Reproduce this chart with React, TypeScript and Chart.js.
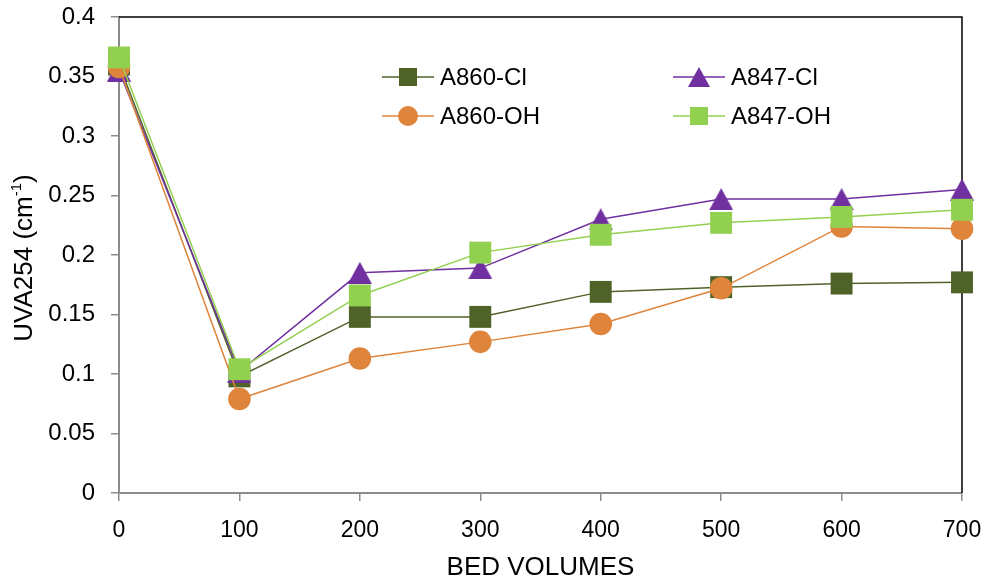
import { useEffect, useRef } from "react";
import { Chart, registerables } from "chart.js";

Chart.register(...registerables);

// Bed volumes treated (x axis)
const bedVolumes = [0, 100, 200, 300, 400, 500, 600, 700];

// UVA254 absorbance (cm^-1) for each resin / form
const a860Cl = [0.36, 0.098, 0.148, 0.148, 0.169, 0.173, 0.176, 0.177];
const a847Cl = [0.355, 0.102, 0.185, 0.189, 0.23, 0.247, 0.247, 0.255];
const a860OH = [0.358, 0.079, 0.113, 0.127, 0.142, 0.172, 0.224, 0.222];
const a847OH = [0.366, 0.104, 0.166, 0.202, 0.217, 0.227, 0.232, 0.238];

const seriesNames = ["A860-Cl", "A847-Cl", "A860-OH", "A847-OH"];

const COLORS = {
  darkGreen: "#4F6228",
  purple: "#7030A0",
  orange: "#DE843B",
  lightGreen: "#92D050",
};

const FONT = "'Liberation Sans', Arial, sans-serif";
const AXIS_GRAY = "#8C8C8C";

function makeTriangle(color: string, w: number, h: number) {
  const c = document.createElement("canvas");
  c.width = w;
  c.height = h;
  const g = c.getContext("2d")!;
  g.fillStyle = color;
  g.beginPath();
  g.moveTo(w / 2, 0);
  g.lineTo(w, h);
  g.lineTo(0, h);
  g.closePath();
  g.fill();
  return c;
}

// Black frame on the top and right of the plot area
const framePlugin = {
  id: "plotFrame",
  beforeDatasetsDraw(chart: any) {
    const { ctx, chartArea } = chart;
    ctx.save();
    ctx.strokeStyle = "#000";
    ctx.lineWidth = 1.5;
    ctx.beginPath();
    ctx.moveTo(chartArea.left, chartArea.top);
    ctx.lineTo(chartArea.right, chartArea.top);
    ctx.lineTo(chartArea.right, chartArea.bottom);
    ctx.stroke();
    ctx.restore();
  },
};

// Rotated y-axis title with a superscript exponent
const yTitlePlugin = {
  id: "yTitle",
  afterDraw(chart: any) {
    const { ctx } = chart;
    const cx = 25;
    const cy = 258;
    const main = "UVA254 (cm";
    const sup = "-1";
    const tail = ")";
    ctx.save();
    ctx.translate(cx, cy);
    ctx.rotate(-Math.PI / 2);
    ctx.fillStyle = "#000";
    ctx.textBaseline = "middle";
    ctx.font = `26px ${FONT}`;
    const wMain = ctx.measureText(main).width;
    const wTail = ctx.measureText(tail).width;
    ctx.font = `15px ${FONT}`;
    const wSup = ctx.measureText(sup).width;
    const total = wMain + wSup + wTail;
    let x = -total / 2;
    ctx.font = `26px ${FONT}`;
    ctx.textAlign = "left";
    ctx.fillText(main, x, 0);
    x += wMain;
    ctx.font = `15px ${FONT}`;
    ctx.fillText(sup, x, -8);
    x += wSup;
    ctx.font = `26px ${FONT}`;
    ctx.fillText(tail, x, 0);
    ctx.restore();
  },
};

type LegendItem = { label: string; color: string; marker: "square" | "circle" | "triangle"; x: number; y: number };

const legendItems: LegendItem[] = [
  { label: seriesNames[0], color: COLORS.darkGreen, marker: "square", x: 382, y: 77 },
  { label: seriesNames[1], color: COLORS.purple, marker: "triangle", x: 673, y: 77 },
  { label: seriesNames[2], color: COLORS.orange, marker: "circle", x: 382, y: 116 },
  { label: seriesNames[3], color: COLORS.lightGreen, marker: "square", x: 673, y: 116 },
];

const legendPlugin = {
  id: "cornerLegend",
  afterDraw(chart: any) {
    const { ctx } = chart;
    ctx.save();
    for (const it of legendItems) {
      const lineLen = 52;
      const mx = it.x + lineLen / 2;
      ctx.strokeStyle = it.color;
      ctx.lineWidth = 1.5;
      ctx.beginPath();
      ctx.moveTo(it.x, it.y);
      ctx.lineTo(it.x + lineLen, it.y);
      ctx.stroke();
      ctx.fillStyle = it.color;
      if (it.marker === "square") {
        ctx.fillRect(mx - 9, it.y - 9, 18, 18);
      } else if (it.marker === "circle") {
        ctx.beginPath();
        ctx.arc(mx, it.y, 10, 0, Math.PI * 2);
        ctx.fill();
      } else {
        ctx.beginPath();
        ctx.moveTo(mx, it.y - 10);
        ctx.lineTo(mx + 11, it.y + 10);
        ctx.lineTo(mx - 11, it.y + 10);
        ctx.closePath();
        ctx.fill();
      }
      ctx.fillStyle = "#000";
      ctx.font = `24px ${FONT}`;
      ctx.textAlign = "left";
      ctx.textBaseline = "middle";
      ctx.fillText(it.label, it.x + lineLen + 6, it.y + 1);
    }
    ctx.restore();
  },
};

function toPoints(values: number[]) {
  return values.map((v, i) => ({ x: bedVolumes[i], y: v }));
}

export default function App() {
  const canvasRef = useRef<HTMLCanvasElement | null>(null);

  useEffect(() => {
    if (!canvasRef.current) return;
    const triangle = makeTriangle(COLORS.purple, 24, 22);
    const common = {
      borderWidth: 1.5,
      pointBorderWidth: 0,
      clip: false as const,
      tension: 0,
    };
    const chart = new Chart(canvasRef.current, {
      type: "line",
      data: {
        datasets: [
          {
            ...common,
            label: seriesNames[0],
            data: toPoints(a860Cl),
            borderColor: COLORS.darkGreen,
            backgroundColor: COLORS.darkGreen,
            pointStyle: "rect",
            pointRadius: 15.5,
            order: 3,
          },
          {
            ...common,
            label: seriesNames[1],
            data: toPoints(a847Cl),
            borderColor: COLORS.purple,
            backgroundColor: COLORS.purple,
            pointStyle: triangle as any,
            pointRadius: 11,
            order: 2,
          },
          {
            ...common,
            label: seriesNames[2],
            data: toPoints(a860OH),
            borderColor: COLORS.orange,
            backgroundColor: COLORS.orange,
            pointStyle: "circle",
            pointRadius: 11.3,
            order: 1,
          },
          {
            ...common,
            label: seriesNames[3],
            data: toPoints(a847OH),
            borderColor: COLORS.lightGreen,
            backgroundColor: COLORS.lightGreen,
            pointStyle: "rect",
            pointRadius: 15.5,
            order: 0,
          },
        ],
      },
      options: {
        animation: false,
        responsive: false,
        maintainAspectRatio: false,
        events: [],
        layout: { padding: { left: 0, top: 17, right: 24, bottom: 0 } },
        plugins: {
          legend: { display: false },
          tooltip: { enabled: false },
        },
        scales: {
          x: {
            type: "linear",
            min: 0,
            max: 700,
            afterFit: (s: any) => {
              s.height = 88;
              s.paddingLeft = 0;
              s.paddingRight = 0;
            },
            ticks: {
              stepSize: 100,
              color: "#000",
              font: { family: FONT, size: 23 },
              padding: 16,
              maxRotation: 0,
            },
            grid: { drawOnChartArea: false, drawTicks: true, tickLength: 8, color: AXIS_GRAY, lineWidth: 1.5 },
            border: { display: true, color: AXIS_GRAY, width: 2 },
            title: {
              display: true,
              text: "BED VOLUMES",
              color: "#000",
              font: { family: FONT, size: 26 },
              padding: { top: 0, bottom: -2 },
            },
          },
          y: {
            type: "linear",
            min: 0,
            max: 0.4,
            afterFit: (s: any) => {
              s.width = 119;
              s.paddingTop = 0;
              s.paddingBottom = 0;
            },
            ticks: {
              stepSize: 0.05,
              color: "#000",
              font: { family: FONT, size: 24 },
              padding: 16,
              callback: (v: any) => String(Number(Number(v).toFixed(2))),
            },
            grid: { drawOnChartArea: false, drawTicks: true, tickLength: 8, color: AXIS_GRAY, lineWidth: 1.5 },
            border: { display: true, color: AXIS_GRAY, width: 2 },
          },
        },
      },
      plugins: [framePlugin, yTitlePlugin, legendPlugin],
    });
    return () => chart.destroy();
  }, []);

  return (
    <div style={{ position: "absolute", left: 0, top: 0, width: 986, height: 581, background: "#fff" }}>
      <canvas ref={canvasRef} width={986} height={581} style={{ width: 986, height: 581, display: "block" }} />
    </div>
  );
}
